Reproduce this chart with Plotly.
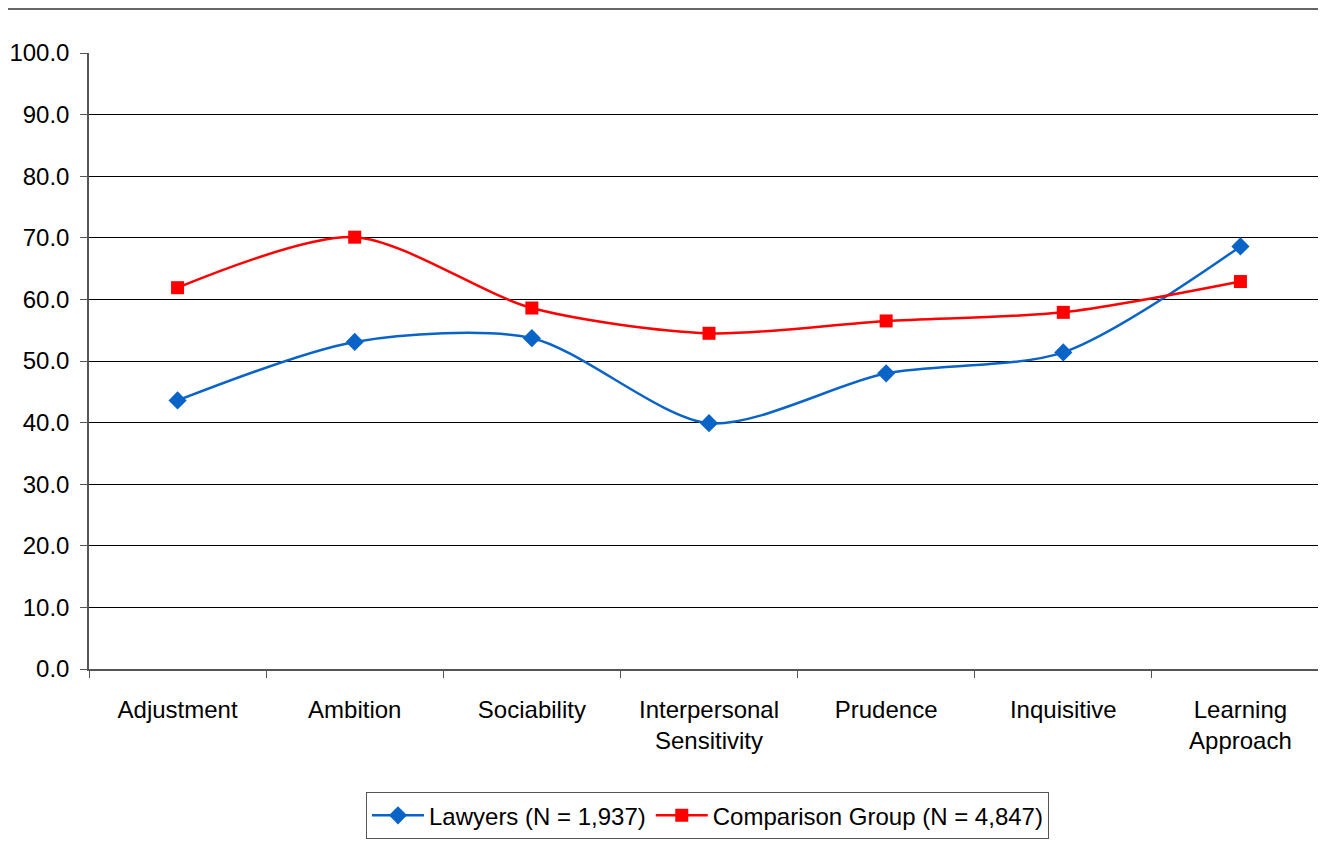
import plotly.graph_objects as go

categories = ["Adjustment", "Ambition", "Sociability", "Interpersonal<br>Sensitivity",
              "Prudence", "Inquisitive", "Learning<br>Approach"]
lawyers = [43.6, 53.1, 53.7, 39.9, 48.0, 51.4, 68.6]
comparison = [61.9, 70.1, 58.6, 54.5, 56.5, 57.9, 62.9]
y_ticks = [0, 10, 20, 30, 40, 50, 60, 70, 80, 90, 100]

FONT = "Liberation Sans, Arial, sans-serif"

fig = go.Figure()
fig.add_trace(go.Scatter(
    x=categories, y=lawyers, name="Lawyers (N = 1,937)",
    mode="lines+markers",
    line=dict(color="#0A64C8", width=2.5, shape="spline", smoothing=0.8),
    marker=dict(symbol="diamond", size=14, color="#0A64C8"),
))
fig.add_trace(go.Scatter(
    x=categories, y=comparison, name="Comparison Group (N = 4,847)",
    mode="lines+markers",
    line=dict(color="#FF0000", width=2.5, shape="spline", smoothing=0.8),
    marker=dict(symbol="square", size=13, color="#FF0000"),
))

fig.update_layout(
    width=1318, height=834,
    margin=dict(l=81, r=0, t=45, b=173),
    paper_bgcolor="white", plot_bgcolor="white",
    font=dict(family=FONT, size=24, color="#000000"),
    showlegend=True,
    legend=dict(orientation="h", x=0.5, xanchor="center", y=-0.2, yanchor="top",
                bordercolor="#555555", borderwidth=1, font=dict(size=24),
                itemwidth=52, tracegroupgap=0),
    shapes=[dict(type="line", xref="paper", yref="paper", x0=-0.07, x1=1.0,
                 y0=1.0714, y1=1.0714, line=dict(color="#333333", width=1.5))],
)
fig.update_xaxes(
    type="category", range=[-0.5, 6.483], showgrid=False,
    showline=True, linecolor="#555555", linewidth=1.5,
    ticks="outside", tickson="boundaries", ticklen=7, tickcolor="#555555",
    tickfont=dict(size=24), ticklabelstandoff=18,
)
fig.update_yaxes(
    range=[0, 100], tickvals=y_ticks, tickformat=".1f",
    showgrid=True, gridcolor="#000000", gridwidth=1,
    showline=True, linecolor="#555555", linewidth=1.5,
    ticks="outside", ticklen=7, tickcolor="#555555",
    tickfont=dict(size=24), zeroline=False, ticklabelstandoff=6,
)

fig.write_html("out.html")
